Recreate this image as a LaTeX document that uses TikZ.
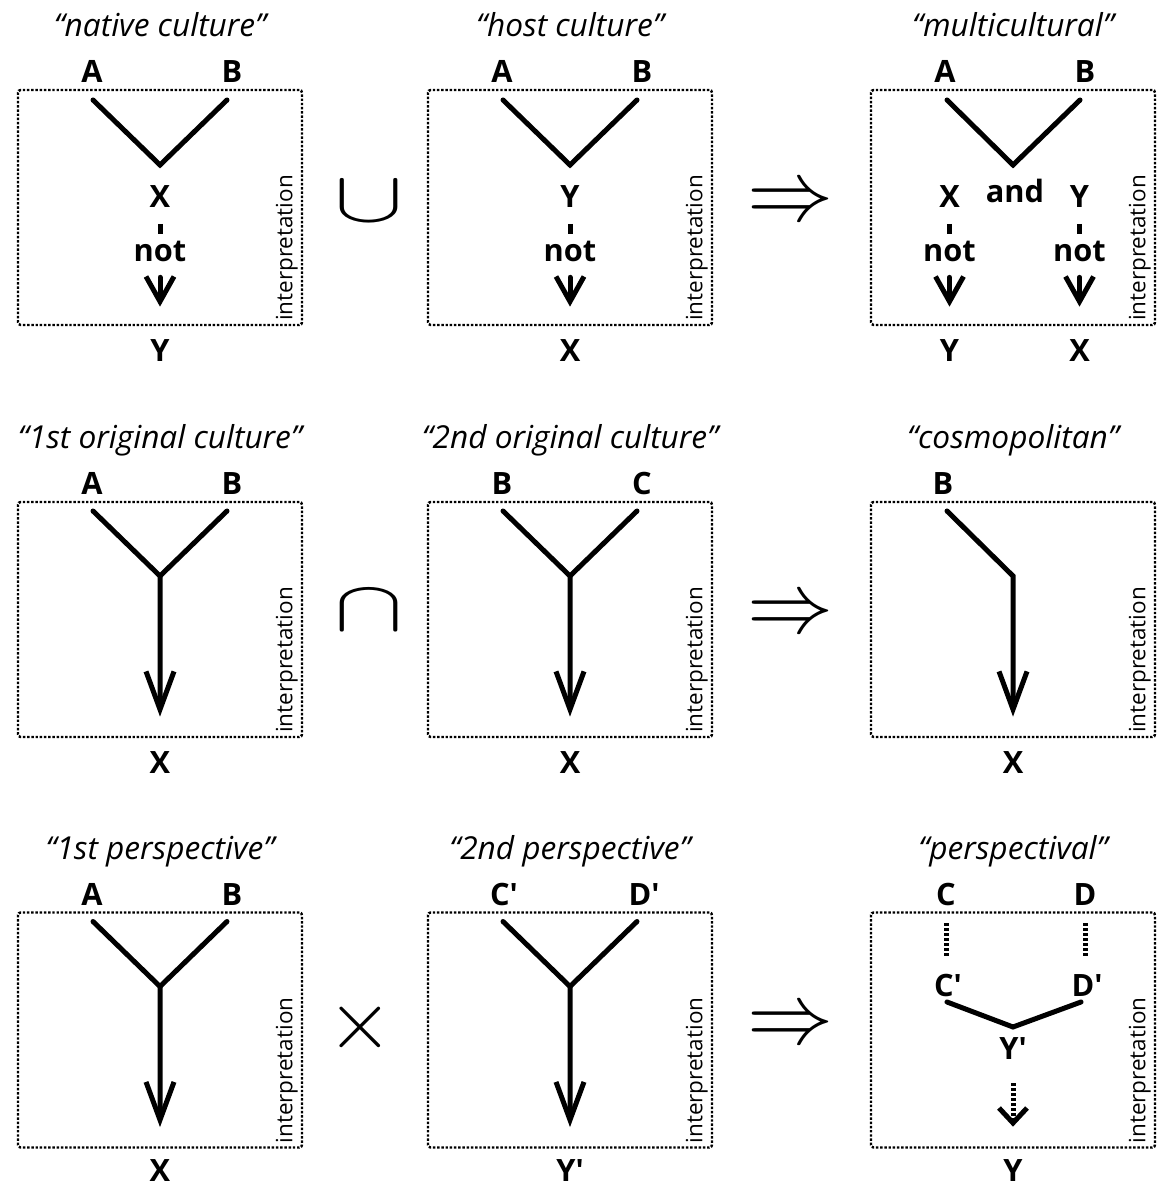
\documentclass[tikz,border=0pt]{standalone}
\usepackage{fontspec}
\setmainfont{Open Sans}
\usepackage{graphicx}
\usetikzlibrary{arrows.meta}

\begin{document}
\begin{tikzpicture}[
    frame/.style={draw, densely dotted, line width=1.4pt, rounded corners=1.5pt, minimum width=5.68cm, minimum height=4.7cm, inner sep=0pt},
    heading/.style={font=\fontsize{18}{22}\selectfont\itshape, anchor=base, inner sep=0pt},
    lbl/.style={font=\fontsize{17.5}{20}\selectfont\bfseries, anchor=base, inner sep=0pt, text height=0.44cm, text depth=0pt},
    interp/.style={font=\fontsize{12.8}{14}\selectfont, rotate=90, anchor=south west, inner sep=0pt},
    stem/.style={line width=0.1cm, line cap=round},
    hatch/.style={line width=0.1cm, dash pattern=on 0.06cm off 0.04cm},
    bigarrow/.style={stem, -{Straight Barb[length=0.76cm, width=0.56cm]}},
    smallarrow/.style={stem, -{Straight Barb[length=0.5cm, width=0.56cm]}},
    dotarrow/.style={hatch, -{Straight Barb[length=0.3cm, width=0.56cm]}},
    op/.style={inner sep=0pt}
]
    \useasboundingbox (0,0) rectangle (23.12,23.76);

    % frames
    \foreach \i/\yy in {1/19.61, 2/11.37, 3/3.16}
      \foreach \j/\xx in {1/3.2, 2/11.4, 3/20.26} {
        \node[frame] (f\i\j) at (\xx,\yy) {};
        \node[interp] (i\i\j) at ([xshift=-0.1cm, yshift=0.1cm]f\i\j.south east) {interpretation};
      }

    % row 1
    \begin{scope}[shift={(f11.center)}]
        \node[heading] (t11) at (0,3.41) {“native culture”};
        \node[lbl] (a11) at (-1.36,2.49) {A};
        \node[lbl] (b11) at (1.44,2.49) {B};
        \coordinate (a11e) at (-1.34,2.15);
        \coordinate (b11e) at (1.34,2.15);
        \coordinate (v11) at (0,0.85);
        \draw[stem] (a11e) -- (v11) -- (b11e);
        \node[lbl] (x11) at (0,0) {X};
        \node[lbl] (n11) at (0,-1.09) {not};
        \node[lbl] (y11) at (0,-3.09) {Y};
        \draw[stem, line cap=butt, shorten <=0.32cm, shorten >=0.11cm] (x11) -- (n11);
        \draw[smallarrow, shorten <=0.3cm, shorten >=0.66cm] (n11) -- (y11);
    \end{scope}

    \begin{scope}[shift={(f12.center)}]
        \node[heading] (t12) at (0,3.41) {“host culture”};
        \node[lbl] (a12) at (-1.36,2.49) {A};
        \node[lbl] (b12) at (1.44,2.49) {B};
        \coordinate (a12e) at (-1.34,2.15);
        \coordinate (b12e) at (1.34,2.15);
        \coordinate (v12) at (0,0.85);
        \draw[stem] (a12e) -- (v12) -- (b12e);
        \node[lbl] (y12) at (0,0) {Y};
        \node[lbl] (n12) at (0,-1.09) {not};
        \node[lbl] (x12) at (0,-3.09) {X};
        \draw[stem, line cap=butt, shorten <=0.32cm, shorten >=0.11cm] (y12) -- (n12);
        \draw[smallarrow, shorten <=0.3cm, shorten >=0.66cm] (n12) -- (x12);
    \end{scope}

    \begin{scope}[shift={(f13.center)}]
        \node[heading] (t13) at (0,3.41) {“multicultural”};
        \node[lbl] (a13) at (-1.36,2.49) {A};
        \node[lbl] (b13) at (1.44,2.49) {B};
        \coordinate (a13e) at (-1.32,2.15);
        \coordinate (b13e) at (1.34,2.15);
        \coordinate (v13) at (0,0.85);
        \draw[stem] (a13e) -- (v13) -- (b13e);
        \node[lbl] (x13) at (-1.27,0) {X};
        \node[lbl] (and13) at (0.04,0.09) {and};
        \node[lbl] (y13) at (1.33,0) {Y};
        \node[lbl] (n13a) at (-1.27,-1.09) {not};
        \node[lbl] (n13b) at (1.33,-1.09) {not};
        \node[lbl] (y13b) at (-1.27,-3.09) {Y};
        \node[lbl] (x13b) at (1.33,-3.09) {X};
        \draw[stem, line cap=butt, shorten <=0.32cm, shorten >=0.11cm] (x13) -- (n13a);
        \draw[stem, line cap=butt, shorten <=0.32cm, shorten >=0.11cm] (y13) -- (n13b);
        \draw[smallarrow, shorten <=0.3cm, shorten >=0.66cm] (n13a) -- (y13b);
        \draw[smallarrow, shorten <=0.3cm, shorten >=0.66cm] (n13b) -- (x13b);
    \end{scope}

    % row 2
    \begin{scope}[shift={(f21.center)}]
        \node[heading] (t21) at (0,3.41) {“1st original culture”};
        \node[lbl] (a21) at (-1.36,2.49) {A};
        \node[lbl] (b21) at (1.44,2.49) {B};
        \coordinate (a21e) at (-1.34,2.17);
        \coordinate (b21e) at (1.34,2.17);
        \coordinate (v21) at (0,0.87);
        \node[lbl] (x21) at (0,-3.09) {X};
        \draw[stem] (b21e) -- (v21);
        \draw[bigarrow, shorten >=0.7cm] (a21e) -- (v21) -- (x21);
    \end{scope}

    \begin{scope}[shift={(f22.center)}]
        \node[heading] (t22) at (0,3.41) {“2nd original culture”};
        \node[lbl] (b22) at (-1.36,2.49) {B};
        \node[lbl] (c22) at (1.44,2.49) {C};
        \coordinate (b22e) at (-1.34,2.17);
        \coordinate (c22e) at (1.34,2.17);
        \coordinate (v22) at (0,0.87);
        \node[lbl] (x22) at (0,-3.09) {X};
        \draw[stem] (c22e) -- (v22);
        \draw[bigarrow, shorten >=0.7cm] (b22e) -- (v22) -- (x22);
    \end{scope}

    \begin{scope}[shift={(f23.center)}]
        \node[heading] (t23) at (0,3.41) {“cosmopolitan”};
        \node[lbl] (b23) at (-1.4,2.49) {B};
        \coordinate (b23e) at (-1.32,2.17);
        \coordinate (v23) at (0,0.87);
        \node[lbl] (x23) at (0,-3.09) {X};
        \draw[bigarrow, shorten >=0.7cm] (b23e) -- (v23) -- (x23);
    \end{scope}

    % row 3
    \begin{scope}[shift={(f31.center)}]
        \node[heading] (t31) at (0,3.41) {“1st perspective”};
        \node[lbl] (a31) at (-1.36,2.49) {A};
        \node[lbl] (b31) at (1.44,2.49) {B};
        \coordinate (a31e) at (-1.34,2.17);
        \coordinate (b31e) at (1.34,2.17);
        \coordinate (v31) at (0,0.87);
        \node[lbl] (x31) at (0,-3.03) {X};
        \draw[stem] (b31e) -- (v31);
        \draw[bigarrow, shorten >=0.64cm] (a31e) -- (v31) -- (x31);
    \end{scope}

    \begin{scope}[shift={(f32.center)}]
        \node[heading] (t32) at (0,3.41) {“2nd perspective”};
        \node[lbl] (cp32) at (-1.32,2.49) {C′};
        \node[lbl] (dp32) at (1.48,2.49) {D′};
        \coordinate (cp32e) at (-1.34,2.17);
        \coordinate (dp32e) at (1.34,2.17);
        \coordinate (v32) at (0,0.87);
        \node[lbl] (yp32) at (0,-3.03) {Y′};
        \draw[stem] (dp32e) -- (v32);
        \draw[bigarrow, shorten >=0.64cm] (cp32e) -- (v32) -- (yp32);
    \end{scope}

    \begin{scope}[shift={(f33.center)}]
        \node[heading] (t33) at (0,3.41) {“perspectival”};
        \node[lbl] (c33) at (-1.34,2.49) {C};
        \node[lbl] (d33) at (1.44,2.49) {D};
        \node[lbl] (cp33) at (-1.3,0.66) {C′};
        \node[lbl] (dp33) at (1.48,0.66) {D′};
        \draw[hatch, shorten <=0.35cm, shorten >=0.36cm] (c33.south) -- (c33.south |- cp33.north);
        \draw[hatch, shorten <=0.35cm, shorten >=0.36cm] (d33.south) -- (d33.south |- dp33.north);
        \coordinate (cp33e) at (-1.32,0.56);
        \coordinate (dp33e) at (1.36,0.56);
        \coordinate (v33) at (0,0.06);
        \draw[stem] (cp33e) -- (v33) -- (dp33e);
        \node[lbl] (yp33) at (0,-0.6) {Y′};
        \node[lbl] (y33) at (0,-3.03) {Y};
        \draw[dotarrow, shorten <=0.46cm, shorten >=0.65cm] (yp33) -- (y33);
    \end{scope}

    % operators
    \node[op] (cup1) at (7.38,19.72) {\scalebox{5.9}[4.1]{$\cup$}};
    \node[op] (cap2) at (7.38,11.56) {\scalebox{5.9}[4.1]{$\cap$}};
    \node[op] (times3) at (7.2,3.22) {\scalebox{4.8}{$\times$}};
    \node[op] (imp1) at (15.82,19.66) {\scalebox{4.9}{$\Rightarrow$}};
    \node[op] (imp2) at (15.82,11.42) {\scalebox{4.9}{$\Rightarrow$}};
    \node[op] (imp3) at (15.82,3.2) {\scalebox{4.9}{$\Rightarrow$}};
\end{tikzpicture}
\end{document}
